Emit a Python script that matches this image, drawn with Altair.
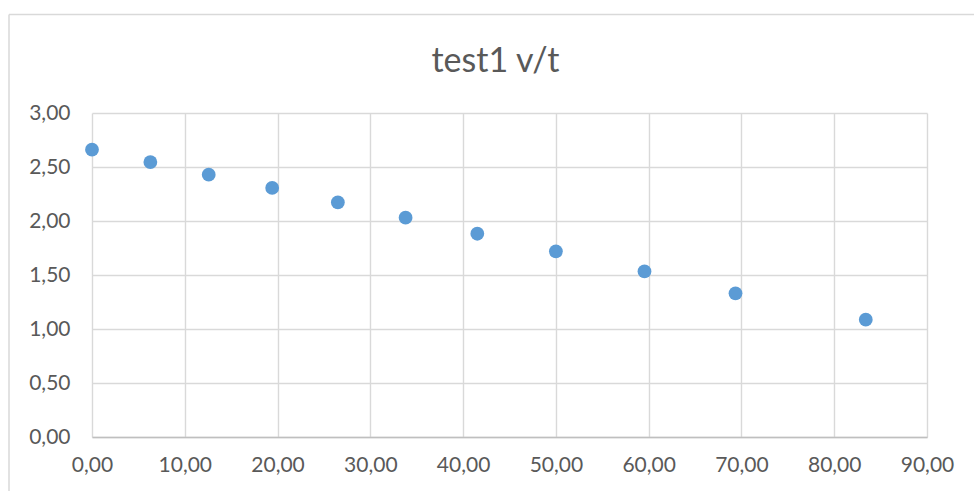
import altair as alt
import pandas as pd

t_values = [0.0, 6.29, 12.58, 19.42, 26.5, 33.8, 41.53, 50.0, 59.55, 69.36, 83.4]
v_values = [2.66, 2.546, 2.429, 2.306, 2.172, 2.031, 1.882, 1.719, 1.533, 1.330, 1.086]
x_ticks = [0, 10, 20, 30, 40, 50, 60, 70, 80, 90]
y_ticks = [0, 0.5, 1.0, 1.5, 2.0, 2.5, 3.0]
title_text = "test1 v/t"

df = pd.DataFrame({"t": t_values, "v": v_values})

FONT = "Lato"
TEXT = "#595959"
GRID = "#D9D9D9"
label_expr = "replace(format(datum.value, '.2f'), '.', ',')"

points = alt.Chart(df).mark_circle(size=190, color="#5B9BD5", opacity=1).encode(
    x=alt.X("t:Q", scale=alt.Scale(domain=[0, 90], nice=False, zero=True),
            axis=alt.Axis(values=x_ticks, labelExpr=label_expr, title=None,
                          grid=True, gridColor=GRID, gridWidth=1.4,
                          domain=True, domainColor="#BFBFBF", domainWidth=1.4,
                          ticks=False, labelPadding=17, labelFontSize=21,
                          labelFlush=False, labelOverlap=False, labelBound=False,
                          labelColor=TEXT, labelFont=FONT)),
    y=alt.Y("v:Q", scale=alt.Scale(domain=[0, 3], nice=False),
            axis=alt.Axis(values=y_ticks, labelExpr=label_expr, title=None,
                          grid=True, gridColor=GRID, gridWidth=1.4,
                          domain=False, ticks=False, labelPadding=22,
                          labelFlush=False, labelOverlap=False,
                          labelFontSize=21, labelColor=TEXT, labelFont=FONT)),
)

frame_df = pd.DataFrame({"a": [0]})
left_line = alt.Chart(frame_df).mark_rule(color=GRID, strokeWidth=1.5, clip=False).encode(
    x=alt.value(-83), y=alt.value(-98.5), y2=alt.value(400))
top_line = alt.Chart(frame_df).mark_rule(color=GRID, strokeWidth=1.5, clip=False).encode(
    x=alt.value(-83), x2=alt.value(900), y=alt.value(-98.5))

chart = alt.layer(left_line, top_line, points).properties(
    width=835, height=324,
    title=alt.TitleParams(title_text, fontSize=34, font=FONT, color=TEXT,
                          fontWeight="normal", anchor="middle", offset=-65, dx=-14),
    autosize=alt.AutoSizeParams(type="none"),
    padding={"left": 92, "top": 113, "right": 47, "bottom": 54},
    background="white",
).configure_view(stroke=None)

chart.save("out.html", embed_options={"renderer": "svg", "actions": False})
